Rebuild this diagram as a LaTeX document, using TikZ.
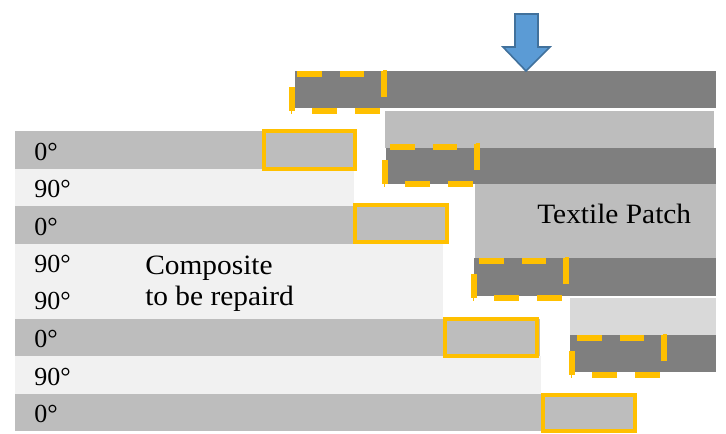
\documentclass[tikz,border=0pt]{standalone}
\usepackage{fontspec}
\setmainfont{Liberation Serif}
\newfontfamily\widefont[FakeStretch=1.05]{Liberation Serif}
\definecolor{plyG}{HTML}{BDBDBD}
\definecolor{plyL}{HTML}{F1F1F1}
\definecolor{plyD}{HTML}{7F7F7F}
\definecolor{plyM}{HTML}{D9D9D9}
\definecolor{amber}{HTML}{FFC000}
\definecolor{arrowF}{HTML}{5B9BD5}
\definecolor{arrowE}{HTML}{41719C}
\tikzset{
  lapbox/.style={draw=amber,line width=3pt,fill=none},
  anglelbl/.style={font=\fontsize{19.5}{20}\selectfont,anchor=base west,inner sep=0pt,text=black},
  txtlbl/.style={font=\widefont\fontsize{21}{21}\selectfont,anchor=base west,inner sep=0pt,text=black}
}
\newcommand{\dashgroup}[2]{%
  \begin{scope}[shift={(#1,#2)}]
    \fill[amber] (2,0) rectangle (27,6);
    \fill[amber] (45,0) rectangle (69,6);
    \fill[amber] (17,37) rectangle (42,43);
    \fill[amber] (60,37) rectangle (85,43);
    \fill[amber] (-6,16) rectangle (0,40);
    \fill[amber] (-4,40) rectangle (-3,43);
    \fill[amber] (85.5,0) rectangle (91.5,26);
    \fill[amber] (88,-1) rectangle (91.5,1);
  \end{scope}}
\begin{document}
\begin{tikzpicture}[x=0.75pt,y=-0.75pt]
\useasboundingbox (0,0) rectangle (726,433);
\fill[white] (0,0) rectangle (726,433);
% laminate
\fill[plyG] (15,131) rectangle (356,169);
\fill[plyL] (15,169) rectangle (354,206);
\fill[plyG] (15,206) rectangle (445,244);
\fill[plyL] (15,244) rectangle (443,319);
\fill[plyG] (15,319) rectangle (540,356);
\fill[plyL] (15,356) rectangle (541,394);
\fill[plyG] (15,394) rectangle (636,431);
% patch
\fill[plyD] (295,71) rectangle (716,108);
\fill[plyG] (385,111) rectangle (714,148);
\fill[plyD] (386,148) rectangle (716,184);
\fill[plyG] (475,184) rectangle (716,258);
\fill[plyD] (474,258) rectangle (716,296);
\fill[plyM] (570,298) rectangle (716,335);
\fill[plyD] (570,335) rectangle (716,372);
% solid boxes
\draw[lapbox] (264,131) rectangle (355,169);
\draw[lapbox] (355,205) rectangle (447,242);
\draw[lapbox] (445,319) rectangle (537,356);
\draw[lapbox] (543,395) rectangle (635,431);
% dashes
\dashgroup{295}{71}
\dashgroup{388}{144}
\dashgroup{477}{258}
\dashgroup{575}{335}
% arrow
\draw[draw=arrowE,fill=arrowF,line width=1.2pt] (515,14) -- (538,14) -- (538,47) -- (550,47) -- (526,71) -- (503,47) -- (515,47) -- cycle;
% labels
\node[anglelbl] (a1) at (34,160) {0°};
\node[anglelbl] (a2) at (34,197) {90°};
\node[anglelbl] (a3) at (34,235) {0°};
\node[anglelbl] (a4) at (34,272) {90°};
\node[anglelbl] (a5) at (34,309) {90°};
\node[anglelbl] (a6) at (34,347) {0°};
\node[anglelbl] (a7) at (34,385) {90°};
\node[anglelbl] (a8) at (34,422) {0°};
\node[txtlbl] (c1) at (145,274) {Composite};
\node[txtlbl] (c2) at (145,305) {to be repaird};
\node[txtlbl] (t) at (537,223) {Textile Patch};
\end{tikzpicture}
\end{document}
